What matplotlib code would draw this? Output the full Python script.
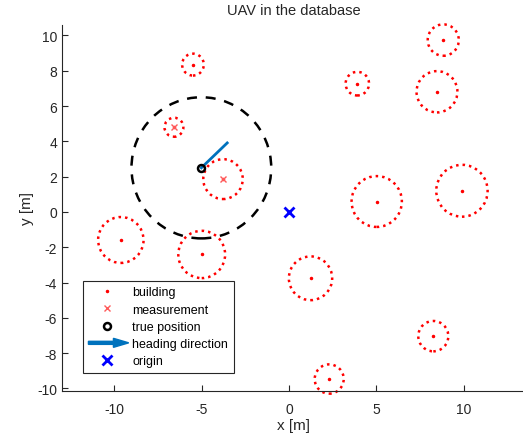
import numpy as np
import matplotlib.pyplot as plt
from matplotlib.patches import Circle, FancyArrow
from matplotlib.legend_handler import HandlerPatch

plt.rcParams['font.family'] = ['Liberation Sans', 'DejaVu Sans']
plt.rcParams['axes.unicode_minus'] = False

# buildings: centre and radius [m]
bx = [8.83, -5.5, 3.91, 8.47, -6.59, -3.78, 5.02, 9.90, -9.63, -5.0, 1.23, 8.26, 2.30]
by = [9.74, 8.35, 7.27, 6.81, 4.80, 1.86, 0.59, 1.20, -1.59, -2.41, -3.76, -7.04, -9.47]
br = [0.89, 0.62, 0.67, 1.17, 0.54, 1.13, 1.44, 1.47, 1.30, 1.34, 1.24, 0.86, 0.83]

# measured buildings
mx = [-6.59, -3.78]
my = [4.80, 1.86]

# UAV
pos = [-5.02, 2.50]
head = [-3.54, 3.91]
sense_r = 4.0

axcol = (0.15, 0.15, 0.15)


class HandlerArrow(HandlerPatch):
    def create_artists(self, legend, orig_handle, xdescent, ydescent,
                       width, height, fontsize, trans):
        a = FancyArrow(-xdescent, height / 2 - ydescent, width + 2, 0,
                       width=2.2, head_width=6.5, head_length=11,
                       length_includes_head=True, color='#0072BD')
        a.set_transform(trans)
        return [a]


fig = plt.figure(figsize=(5.23, 4.39), dpi=100)
ax = fig.add_axes([0.1185, 0.107, 0.885, 0.834])

for x, y, r in zip(bx, by, br):
    ax.add_patch(Circle((x, y), r, fill=False, ec='red', ls=(0, (1, 1.6)),
                        lw=1.8, clip_on=False))
h_b, = ax.plot(bx, by, '.', color='red', ms=3)
h_m, = ax.plot(mx, my, 'x', color='#ff5a5a', ms=5, mew=1)

ax.add_patch(Circle(pos, sense_r, fill=False, ec='black', ls=(0, (4, 3.5)), lw=1.8))
ax.plot([pos[0], head[0]], [pos[1], head[1]], color='#0072BD', lw=2)
h_p, = ax.plot(pos[0], pos[1], 'o', mfc='none', mec='black', ms=5, mew=1.8)
h_o, = ax.plot(0, 0, 'x', color='blue', ms=7, mew=2)

h_h = FancyArrow(0, 0, 1, 0, color='#0072BD')

ax.set_xlim(-13, 13.5)
ax.set_ylim(-10.15, 10.6)
ax.set_xticks([-10, -5, 0, 5, 10])
ax.set_yticks(np.arange(-10, 11, 2))
ax.spines['top'].set_visible(False)
ax.spines['right'].set_visible(False)
for s in ['left', 'bottom']:
    ax.spines[s].set_color(axcol)
    ax.spines[s].set_linewidth(0.8)
ax.tick_params(direction='in', length=4, colors=axcol, labelsize=10)
ax.tick_params(axis='x', pad=8)

ax.set_title('UAV in the database', fontsize=10.5, color=axcol, pad=8)
ax.set_xlabel('x [m]', fontsize=11, color=axcol, labelpad=1)
ax.set_ylabel('y [m]', fontsize=11, color=axcol, labelpad=2)

leg = ax.legend([h_b, h_m, h_p, h_h, h_o],
                ['building', 'measurement', 'true position', 'heading direction', 'origin'],
                handler_map={FancyArrow: HandlerArrow()},
                loc='lower left', bbox_to_anchor=(0.045, 0.049), borderaxespad=0,
                fontsize=9, fancybox=False, framealpha=1, edgecolor=axcol,
                handlelength=3.0, handletextpad=0.5, borderpad=0.45,
                labelspacing=0.42)
leg.get_frame().set_linewidth(0.8)

fig.savefig('out.png', dpi=100)
